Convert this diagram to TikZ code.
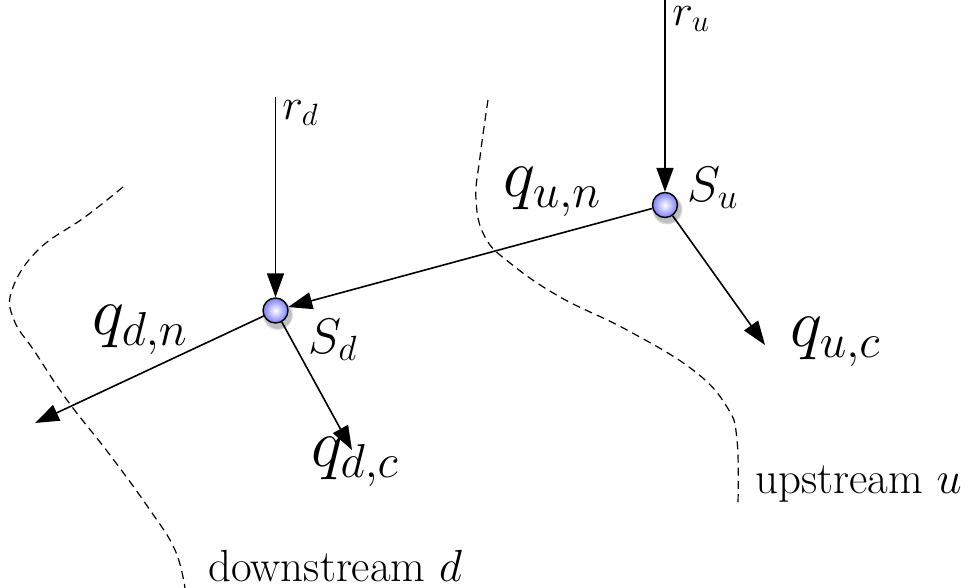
\documentclass[tikz,border=0pt]{standalone}
\usepackage{fix-cm}
\usetikzlibrary{arrows.meta, positioning, shadows}
\definecolor{ballblue}{RGB}{125,125,250}

\begin{document}
\begin{tikzpicture}[
    x=0.5pt, y=-0.5pt, >={Triangle[length=12pt, width=8.5pt]},
    flow/.style={->, line width=0.8pt},
    border/.style={line width=0.6pt, dash pattern=on 4pt off 2.6pt},
    snode/.style={circle, draw, line width=0.7pt, minimum size=12.5pt, inner sep=0pt,
                  inner color=white, outer color=ballblue,
                  circular drop shadow={shadow xshift=0.8pt, shadow yshift=-1.6pt,
                                        shadow scale=1.25, opacity=0.5}},
    flab/.style={inner sep=0pt, font=\fontsize{34}{40}\selectfont},
    slab/.style={inner sep=0pt, font=\fontsize{25}{30}\selectfont},
    rlab/.style={inner sep=0pt, font=\fontsize{22}{26}\selectfont},
    tlab/.style={inner sep=0pt, font=\fontsize{22.5}{27}\selectfont},
]
\useasboundingbox (0,0) rectangle (969,588);

% boundaries of the two reaches
\draw[border] plot[smooth, tension=0.7] coordinates {(123,187) (85,217) (38,250) (12,290)
    (14,320) (35,352) (67,400) (110,455) (150,510) (175,550) (185,588)};
\draw[border] plot[smooth, tension=0.7] coordinates {(488,100) (480,157) (476,200) (485,237)
    (510,263) (560,297) (627,330) (693,370) (727,407) (737,440) (738,503)};

\node[snode] (su) at (665,205) {};
\node[snode] (sd) at (275.5,310.5) {};

\coordinate (rutop) at (665,0);
\coordinate (rdtop) at (275.5,97);
\coordinate (dn) at (35,423);
\coordinate (dc) at (352,450);
\coordinate (uc) at (765,345);

\draw[flow] (rutop) -- (su);
\draw[flow] (rdtop) -- (sd);
\draw[flow] (su) -- (sd);
\draw[flow] (sd) -- (dn);
\draw[flow] (sd) -- (dc);
\draw[flow] (su) -- (uc);

\node[rlab, anchor=west] (ru) at (672,19) {$r_u$};
\node[rlab, anchor=west] (rd) at (282,113) {$r_d$};
\node[slab] (sulab) at (713,188) {$S_u$};
\node[slab] (sdlab) at (333,340) {$S_d$};
\node[flab, anchor=west] (qun) at (503,192) {$q_{u,n}$};
\node[flab] (qdn) at (140,330) {$q_{d,n}$};
\node[flab] (qdc) at (355,462) {$q_{d,c}$};
\node[flab, anchor=west] (quc) at (790,342) {$q_{u,c}$};
\node[tlab, anchor=west] (up) at (755,484) {upstream $u$};
\node[tlab, anchor=west] (down) at (208,566) {downstream $d$};

\end{tikzpicture}
\end{document}
